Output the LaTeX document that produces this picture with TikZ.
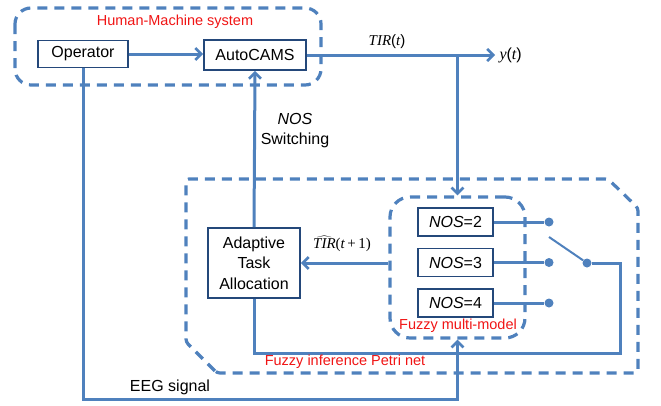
\documentclass[tikz,border=0pt]{standalone}
\usepackage{fontspec}
\setmainfont{Liberation Sans}
\newfontfamily\tms{Liberation Serif}
\usepackage{tikz}
\usetikzlibrary{arrows.meta}
\usetikzlibrary{calc}
\usetikzlibrary{positioning}
\definecolor{lineblue}{RGB}{79,129,189}
\definecolor{boxblue}{RGB}{36,72,122}
\definecolor{lblred}{RGB}{240,20,20}
\newcommand{\tv}[1]{{\tms\itshape #1}}
\tikzset{
  blk/.style={draw=boxblue,line width=1.8pt,fill=white,align=center,inner sep=0pt,font=\fontsize{16}{20.5}\selectfont},
  lnk/.style={draw=lineblue,line width=3pt},
  arr/.style={lnk,-{Straight Barb[length=6pt,width=12pt,line width=2.6pt]}},
  grp/.style={draw=lineblue,line width=3.2pt,dash pattern=on 10pt off 7pt},
  redlbl/.style={text=lblred,font=\fontsize{14.5}{16}\selectfont},
  dot/.style={circle,fill=lineblue,inner sep=0pt,minimum size=9pt},
}
\begin{document}
\begin{tikzpicture}[x=1pt,y=-1pt]
		\useasboundingbox (0,0) rectangle (661,405);
		
		% dashed groups
		\draw[grp,rounded corners=16pt] (15,8) rectangle (321,85);
		\draw[grp,rounded corners=3pt] (217,373) -- (186,342) -- (186,179) -- (608,179) -- (638,208) -- (638,373) -- cycle;
		\node[grp,rounded corners=20pt,minimum width=135pt,minimum height=141pt,inner sep=0pt] (fmm) at (457.5,267.5) {};
		
		% blocks
		\node[blk,minimum width=90pt,minimum height=27pt] (operator) at (83,54) {Operator};
		\node[blk,minimum width=102pt,minimum height=30pt] (autocams) at (255,55) {AutoCAMS};
		\node[blk,minimum width=92pt,minimum height=70pt] (ata) at (254,263) {Adaptive\\Task\\Allocation};
		\node[blk,minimum width=75pt,minimum height=28pt] (nos2) at (455.5,222) {\textit{NOS}=2};
		\node[blk,minimum width=75pt,minimum height=28pt] (nos3) at (455.5,262.5) {\textit{NOS}=3};
		\node[blk,minimum width=75pt,minimum height=28pt] (nos4) at (455.5,303) {\textit{NOS}=4};
		
		% switch contacts
		\node[dot] (d2) at (549,222) {};
		\node[dot] (d3) at (549,262.5) {};
		\node[dot] (d4) at (549,303) {};
		\node[dot] (sw) at (587,263) {};
		\coordinate (swtop) at (549,237);
		\coordinate (yout) at (495,55);
		\coordinate (br) at (457.5,55);
		
		% connectors
		\draw[arr] (operator.east) -- (operator.east -| autocams.west);
		\draw[arr] (autocams.east) -- (yout);
		\draw[arr] (br) -- (fmm.north);
		\draw[arr] (fmm.west |- ata.east) -- (ata.east);
		\draw[arr] (ata.north) -- (autocams.south);
		\draw[arr] (operator.south) -- (83,399) -| (fmm.south);
		\draw[lnk] (nos2.east) -- (d2);
		\draw[lnk] (nos3.east) -- (d3);
		\draw[lnk] (nos4.east) -- (d4);
		\draw[lnk,line width=2pt] (swtop) -- (sw);
		\draw[lnk] (sw) -- (620,263) -- (620,353) -| (ata.south);
		
		% labels
		\node[right=1pt of yout,font=\fontsize{16}{18}\selectfont] (ylbl) {\tv{y}({\tv{t}})};
		\node[font=\fontsize{15}{18}\selectfont] (tirlbl) at (387,42) {\tv{TIR}({\tv{t}})};
		\node[font=\fontsize{15}{18}\selectfont] (tirhat) at (342,244) {$\widehat{\hbox{\tv{TIR}}}$\tms(\tv{t}\,+\,1)};
		\node[font=\fontsize{16}{18}\selectfont] (noslbl) at (295,119) {\textit{NOS}};
		\node[font=\fontsize{16}{18}\selectfont] (swlbl) at (295,140) {Switching};
		\node[font=\fontsize{16}{18}\selectfont] (eeglbl) at (170,387) {EEG signal};
		\node[redlbl] (hmlbl) at (175,22) {Human-Machine system};
		\node[redlbl] (fiplbl) at (345,362) {Fuzzy inference Petri net};
		\node[redlbl] (fmmlbl) at (458,326) {Fuzzy multi-model};
	\end{tikzpicture}
\end{document}
